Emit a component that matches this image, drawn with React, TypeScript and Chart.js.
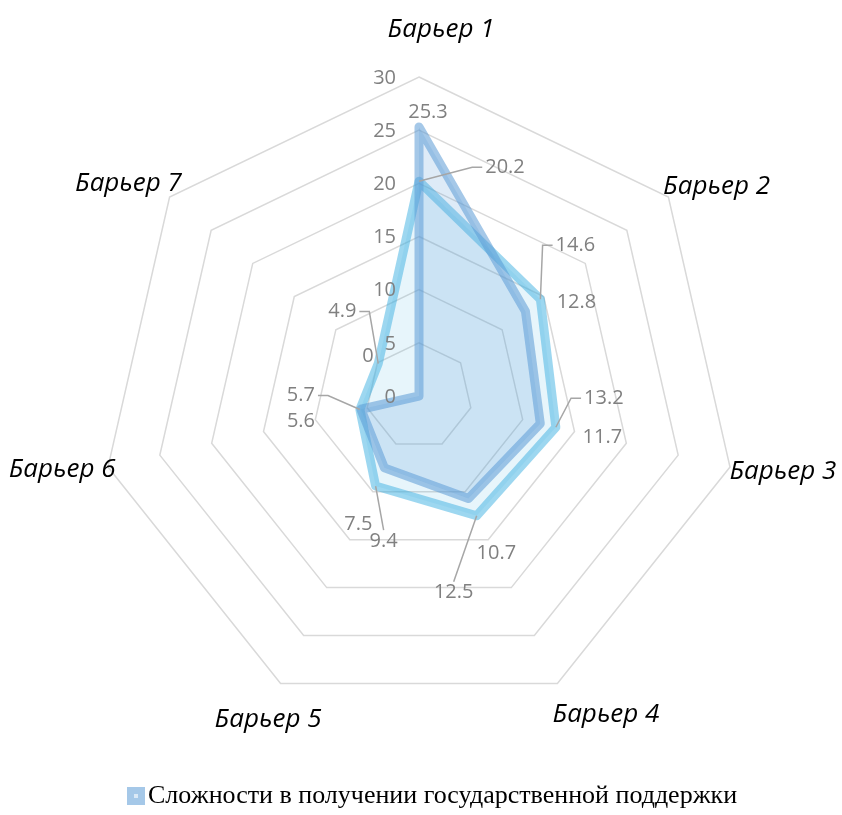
import React, { useEffect, useRef } from "react";
import { Chart, registerables } from "chart.js";

Chart.register(...registerables);

// ---- data ----
const categories = ["Барьер 1", "Барьер 2", "Барьер 3", "Барьер 4", "Барьер 5", "Барьер 6", "Барьер 7"];
const seriesAName = "Сложности в получении государственной поддержки";
const seriesAValues = [25.3, 12.8, 11.7, 10.7, 7.5, 5.6, 0];
const seriesBName = "Ряд 2";
const seriesBValues = [20.2, 14.6, 13.2, 12.5, 9.4, 5.7, 4.9];
const tickValues = [0, 5, 10, 15, 20, 25, 30];

// ---- label layout (offsets of text from their anchor) ----
const labelOffsetsA = [[9, -15], [51, -9], [62, 14], [28, 55], [-26, 56], [-60, 12], [-51, -40]];
const labelOffsetsB = [[86, -14], [35, -54], [48, -29], [-23, 77], [8, 55], [-59, -14], [-36, -52]];
const pointLabelNudge = [[22, -2], [13, 18], [9, -5], [29, -9], [7, -4], [-2, -7], [-6, 15]];

const GREY = "#808080";
const NUM_FONT = '20px "Open Sans"';
const CAT_FONT = 'italic 26px "Open Sans"';
const LEGEND_FONT = '26px "Liberation Serif"';

function fmt(v: number) {
  return Number.isInteger(v) ? String(v) : v.toFixed(1);
}

const overlayPlugin = {
  id: "overlay",
  afterDatasetsDraw(chart: any) {
    const ctx = chart.ctx as CanvasRenderingContext2D;
    const scale = chart.scales.r;
    ctx.save();

    // tick labels (left of vertical axis)
    ctx.font = NUM_FONT;
    ctx.fillStyle = GREY;
    ctx.textAlign = "right";
    ctx.textBaseline = "middle";
    tickValues.forEach((v) => {
      const d = scale.getDistanceFromCenterForValue(v);
      ctx.fillText(String(v), scale.xCenter - 23, scale.yCenter - d + 1);
    });

    // category labels
    ctx.font = CAT_FONT;
    ctx.fillStyle = "#000000";
    ctx.textAlign = "center";
    categories.forEach((c, i) => {
      const p = scale.getPointPosition(i, scale.drawingArea + 45);
      ctx.fillText(c, p.x + pointLabelNudge[i][0], p.y + pointLabelNudge[i][1]);
    });

    // data labels
    const drawLabels = (dsIndex: number, values: number[], offsets: number[][], leader: boolean) => {
      const meta = chart.getDatasetMeta(dsIndex);
      ctx.font = NUM_FONT;
      values.forEach((v, i) => {
        const el = meta.data[i];
        const px = el.x;
        const py = el.y;
        const cx = px + offsets[i][0];
        const cy = py + offsets[i][1];
        const txt = fmt(v);
        const w = ctx.measureText(txt).width;
        const h = 18;
        if (leader) {
          ctx.strokeStyle = "#a6a6a6";
          ctx.lineWidth = 1.5;
          ctx.beginPath();
          const dx = px - cx;
          const dy = py - cy;
          if (Math.abs(dx) > w / 2 + 5) {
            const sx = dx < 0 ? cx - w / 2 - 3 : cx + w / 2 + 3;
            const hx = dx < 0 ? sx - 10 : sx + 10;
            ctx.moveTo(sx, cy);
            ctx.lineTo(hx, cy);
            ctx.lineTo(px, py);
          } else {
            const sy = dy < 0 ? cy - h / 2 - 2 : cy + h / 2 + 2;
            ctx.moveTo(cx, sy);
            ctx.lineTo(px, py);
          }
          ctx.stroke();
        }
        ctx.fillStyle = GREY;
        ctx.textAlign = "center";
        ctx.textBaseline = "middle";
        ctx.fillText(txt, cx, cy);
      });
    };
    drawLabels(0, seriesAValues, labelOffsetsA, false);
    drawLabels(1, seriesBValues, labelOffsetsB, true);

    // legend (first series only)
    const bx = 127;
    const by = 787;
    ctx.fillStyle = "rgba(91,155,213,0.55)";
    ctx.fillRect(bx, by, 18, 18);
    ctx.fillStyle = "rgba(255,255,255,0.6)";
    ctx.fillRect(bx + 7, by + 7, 4, 4);
    ctx.font = LEGEND_FONT;
    ctx.fillStyle = "#000000";
    ctx.textAlign = "left";
    ctx.textBaseline = "middle";
    ctx.fillText(chart.data.datasets[0].label, bx + 21, by + 9);

    ctx.restore();
  },
};

export default function App() {
  const ref = useRef<HTMLCanvasElement | null>(null);
  useEffect(() => {
    if (!ref.current) return;
    const chart = new Chart(ref.current, {
      type: "radar",
      data: {
        labels: categories,
        datasets: [
          {
            label: seriesAName,
            data: seriesAValues,
            borderColor: "rgba(91,155,213,0.55)",
            backgroundColor: "rgba(91,155,213,0.2)",
            borderWidth: 9,
            borderJoinStyle: "round",
            fill: true,
            pointRadius: 0,
            pointHoverRadius: 0,
          },
          {
            label: seriesBName,
            data: seriesBValues,
            borderColor: "rgba(60,175,225,0.5)",
            backgroundColor: "rgba(60,175,225,0.12)",
            borderWidth: 9,
            borderJoinStyle: "round",
            fill: true,
            pointRadius: 0,
            pointHoverRadius: 0,
          },
        ],
      },
      options: {
        responsive: false,
        devicePixelRatio: 1,
        animation: false,
        layout: { padding: { left: 100, right: 104, top: 77, bottom: 100 } },
        plugins: { legend: { display: false }, tooltip: { enabled: false } },
        scales: {
          r: {
            min: 0,
            max: 30,
            ticks: { stepSize: 5, display: false },
            grid: { color: "#d9d9d9", lineWidth: 1.5, circular: false },
            angleLines: { display: false },
            pointLabels: { display: false },
          },
        },
      },
      plugins: [overlayPlugin],
    });
    return () => chart.destroy();
  }, []);
  return (
    <div style={{ position: "absolute", left: 0, top: 0, width: 842, height: 815, background: "#ffffff" }}>
      <canvas ref={ref} width={842} height={815} style={{ display: "block" }} />
    </div>
  );
}
